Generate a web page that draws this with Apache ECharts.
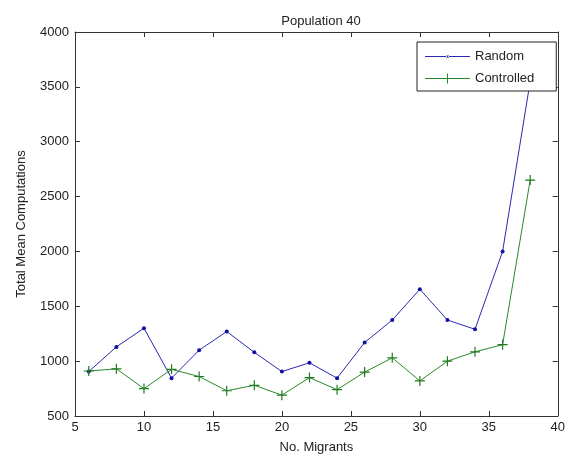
<!DOCTYPE html>
<html>
<head>
<meta charset="utf-8">
<script src="https://cdn.jsdelivr.net/npm/echarts@6/dist/echarts.min.js"></script>
<style>
html,body{margin:0;padding:0;background:#fff;}
#c{width:568px;height:459px;}
</style>
</head>
<body>
<div id="c"></div>
<script>
const migrants = [6, 8, 10, 12, 14, 16, 18, 20, 22, 24, 26, 28, 30, 32, 34, 36, 38];
const randomVals = [905, 1130, 1300, 845, 1100, 1270, 1080, 905, 985, 845, 1170, 1375, 1655, 1375, 1290, 2000, 3550];
const controlledVals = [910, 930, 750, 925, 860, 730, 780, 690, 850, 740, 900, 1030, 820, 1000, 1085, 1150, 2650];
const xTicks = [5, 10, 15, 20, 25, 30, 35, 40];
const yTicks = [500, 1000, 1500, 2000, 2500, 3000, 3500, 4000];

const font = 'Liberation Sans, Arial, sans-serif';
const fs = 13;
const axisCol = '#333';
const blue = '#2a2ab0';
const green = '#2a8a2a';
const plus = 'path://M4.4,0h1.2v4.4h4.4v1.2h-4.4v4.4h-1.2v-4.4h-4.4v-1.2h4.4z';
// legend icons: line + marker, 45x10 box
const iconRandom = 'path://M0,0h0.01v0.01h-0.01z M0,9.99h0.01v0.01h-0.01z M0,4.5h45v1h-45z M21,5a1.5,1.5 0 1,0 3,0a1.5,1.5 0 1,0 -3,0z M22,4h1v2h-1z';
const iconCtrl = 'path://M0,4.5h45v1h-45z M22,0h1v10h-1z';

const chart = echarts.init(document.getElementById('c'), null, {renderer: 'canvas'});
const baseAxis = {
  axisLine: {show: true, onZero: false, lineStyle: {color: axisCol, width: 1}},
  axisTick: {show: true, inside: true, length: 5, lineStyle: {color: axisCol}},
  splitLine: {show: false}
};
chart.setOption({
  backgroundColor: '#fff',
  animation: false,
  title: {
    text: 'Population 40', left: 316, top: 10, textAlign: 'center',
    textStyle: {fontFamily: font, fontSize: fs, fontWeight: 'normal', color: '#222'}
  },
  grid: {left: 75, right: 10, top: 32, bottom: 42, containLabel: false},
  legend: {
    orient: 'vertical', left: 417, top: 42,
    data: [
      {name: 'Random', icon: iconRandom, itemStyle: {color: blue, borderWidth: 0}},
      {name: 'Controlled', icon: iconCtrl, itemStyle: {color: green, borderWidth: 0}}
    ],
    itemStyle: {borderWidth: 0},
    backgroundColor: '#fff', borderColor: '#222', borderWidth: 1, borderRadius: 0,
    padding: [8, 22, 6, 8], itemGap: 9, itemWidth: 45, itemHeight: 10,
    textStyle: {fontFamily: font, fontSize: fs, color: '#222'}
  },
  xAxis: [
    Object.assign({}, baseAxis, {
      type: 'value', min: 5, max: 40, interval: 5, position: 'bottom',
      name: 'No. Migrants', nameLocation: 'middle', nameGap: 25,
      nameTextStyle: {fontFamily: font, fontSize: fs, color: '#222'},
      axisLabel: {fontFamily: font, fontSize: fs, color: '#222', margin: 5}
    }),
    Object.assign({}, baseAxis, {
      type: 'value', min: 5, max: 40, interval: 5, position: 'top',
      axisLabel: {show: false}
    })
  ],
  yAxis: [
    Object.assign({}, baseAxis, {
      type: 'value', min: 500, max: 4000, interval: 500, position: 'left',
      name: 'Total Mean Computations', nameLocation: 'middle', nameGap: 47,
      nameTextStyle: {fontFamily: font, fontSize: fs, color: '#222'},
      axisLabel: {fontFamily: font, fontSize: fs, color: '#222', margin: 6,
        formatter: v => String(v)}
    }),
    Object.assign({}, baseAxis, {
      type: 'value', min: 500, max: 4000, interval: 500, position: 'right',
      axisLabel: {show: false}
    })
  ],
  series: [
    {
      name: 'Random', type: 'line',
      data: migrants.map((m, i) => [m, randomVals[i]]),
      symbol: 'circle', symbolSize: 4, showSymbol: true,
      lineStyle: {color: blue, width: 1},
      itemStyle: {color: '#1010a0'},
      z: 2
    },
    {
      name: 'Controlled', type: 'line',
      data: migrants.map((m, i) => [m, controlledVals[i]]),
      symbol: plus, symbolSize: 10, showSymbol: true,
      lineStyle: {color: green, width: 1},
      itemStyle: {color: '#1f7a1f'},
      z: 2
    }
  ]
});
</script>
</body>
</html>
